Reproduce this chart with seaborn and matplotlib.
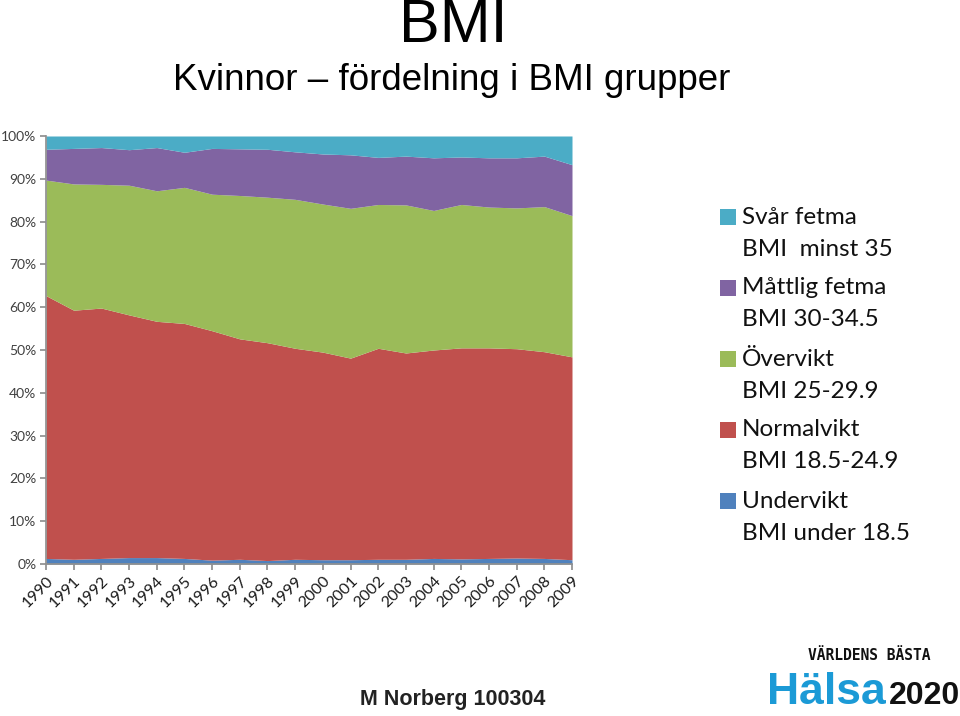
import numpy as np
import pandas as pd
import matplotlib
matplotlib.use("Agg")
import matplotlib.pyplot as plt
import seaborn as sns
from matplotlib.patches import Rectangle
from matplotlib.ticker import FuncFormatter

years = list(range(1990, 2010))
undervikt = [1.3, 1.1, 1.3, 1.5, 1.5, 1.3, 0.9, 1.1, 0.8, 1.1, 1.0, 1.0, 1.1, 1.1, 1.3, 1.2, 1.3, 1.4, 1.3, 1.0]
normalvikt = [61.4, 58.2, 58.5, 56.7, 55.2, 54.9, 53.6, 51.5, 50.9, 49.3, 48.5, 47.1, 49.3, 48.2, 48.7, 49.3, 49.2, 48.9, 48.3, 47.4]
overvikt = [27.0, 29.5, 28.9, 30.3, 30.5, 31.8, 31.9, 33.5, 34.0, 34.8, 34.6, 35.0, 33.6, 34.6, 32.6, 33.5, 32.9, 32.9, 33.9, 33.0]
mattlig_fetma = [7.2, 8.3, 8.6, 8.3, 10.1, 8.2, 10.7, 10.9, 11.2, 11.1, 11.7, 12.5, 11.0, 11.4, 12.3, 11.1, 11.5, 11.7, 11.8, 11.9]
svar_fetma = [3.1, 2.9, 2.7, 3.2, 2.7, 3.8, 2.9, 3.0, 3.1, 3.7, 4.2, 4.4, 5.0, 4.7, 5.1, 4.9, 5.1, 5.1, 4.7, 6.7]

series_names = ["Undervikt", "Normalvikt", "Övervikt", "Måttlig fetma", "Svår fetma"]
series_ranges = ["BMI under 18.5", "BMI 18.5-24.9", "BMI 25-29.9", "BMI 30-34.5", "BMI  minst 35"]
colors = ["#4f81bd", "#c0504d", "#9bbb59", "#8064a2", "#4bacc6"]

df = pd.DataFrame({"year": years, "u": undervikt, "n": normalvikt, "o": overvikt,
                   "m": mattlig_fetma, "s": svar_fetma}).set_index("year")
pct = df.div(df.sum(axis=1), axis=0) * 100

sns.set_theme(style="white")
plt.rcParams["font.family"] = ["Lato", "DejaVu Sans"]

W, H = 960, 716
fig = plt.figure(figsize=(9.6, 7.16), dpi=100)
ax = fig.add_axes([46 / W, 1 - 564 / H, (572 - 46) / W, (564 - 136) / H])
ax.stackplot(pct.index, [pct[c].values for c in ["u", "n", "o", "m", "s"]],
             colors=colors, linewidth=0)
ax.set_xlim(1990, 2009)
ax.set_ylim(0, 100)
ax.set_yticks(np.arange(0, 101, 10))
ax.yaxis.set_major_formatter(FuncFormatter(lambda v, p: f"{int(v)}%"))
ax.set_xticks(years)
ax.set_xticklabels([str(y) for y in years], rotation=45, ha="right",
                   rotation_mode="anchor", fontsize=11.5, color="#1a1a1a")
for lab in ax.get_yticklabels():
    lab.set_fontsize(10)
    lab.set_color("#404040")
sns.despine(ax=ax, top=True, right=True)
ax.spines["left"].set_color("#909090")
ax.spines["bottom"].set_color("#909090")
ax.tick_params(axis="both", which="both", length=4, color="#909090", direction="out",
               bottom=True, left=True, pad=3)
ax.set_xlabel("")
ax.set_ylabel("")

# legend (top entry = top series), squares aligned with first line
for k, i in enumerate(range(4, -1, -1)):
    y1 = 217 + 71 * k
    fig.patches.append(Rectangle((720 / W, 1 - (y1 + 8) / H), 16 / W, 16 / H,
                                 transform=fig.transFigure, facecolor=colors[i],
                                 edgecolor="none"))
    fig.text(742 / W, 1 - y1 / H, series_names[i], ha="left", va="center",
             fontsize=17.5, color="#111111")
    fig.text(742 / W, 1 - (y1 + 32) / H, series_ranges[i], ha="left", va="center",
             fontsize=17.5, color="#111111")

fig.text(0.472, 1 - 27 / H, "BMI", ha="center", va="center", fontsize=44,
         family="Liberation Sans", color="black")
fig.text(0.471, 1 - 80 / H, "Kvinnor – fördelning i BMI grupper", ha="center",
         va="center", fontsize=26.5, family="Liberation Sans", color="black")
fig.text(0.472, 1 - 700 / H, "M Norberg 100304", ha="center", va="center", fontsize=15.5,
         fontweight="bold", family="Liberation Sans", color="#222222")

# logo text
fig.text(767 / W, 1 - 704 / H, "Hälsa", ha="left", va="baseline", fontsize=32,
         fontweight="bold", family="Liberation Sans", color="#1b9ad6")
fig.text(889 / W, 1 - 704 / H, "2020", ha="left", va="baseline", fontsize=23,
         fontweight="bold", family="Liberation Sans", color="#111111")
fig.text(808 / W, 1 - 655 / H, "VÄRLDENS BÄSTA", ha="left", va="center", fontsize=10.5,
         fontweight="bold", family="DejaVu Sans Mono", color="#111111")

fig.savefig("out.png", dpi=100)
